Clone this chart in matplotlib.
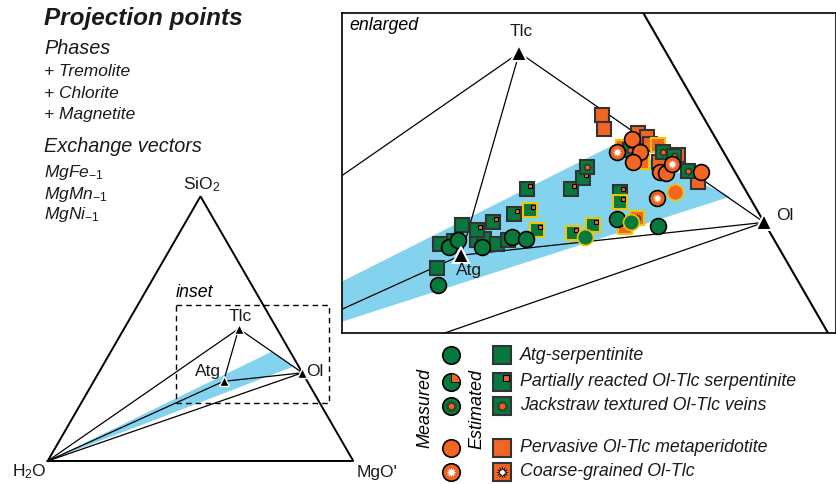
import numpy as np
import matplotlib
matplotlib.use('Agg')
import matplotlib.pyplot as plt
from matplotlib.path import Path

plt.rcParams['font.family'] = ['Liberation Sans', 'DejaVu Sans']
plt.rcParams['mathtext.fontset'] = 'custom'
plt.rcParams['mathtext.rm'] = 'Liberation Sans'
plt.rcParams['mathtext.it'] = 'Liberation Sans:italic'

# ---------------- data ----------------
# phase compositions (mole fractions)
phase_names = ['Tlc', 'Atg', 'Ol']
phase_sio2 = [0.500, 0.301, 0.3333]
phase_mgo = [0.375, 0.425, 0.6667]

# sample projections (projected ternary coordinates, %: x along H2O->MgO', y towards SiO2)
atg_meas_x = [55.61, 56.52, 57.31, 59.35, 61.90, 63.07, 68.09, 70.79, 71.98, 74.33]
atg_meas_y = [23.53, 26.74, 27.36, 26.79, 27.64, 27.42, 27.59, 29.12, 28.92, 28.58]
atg_meas_ring = [0, 0, 0, 0, 0, 0, 1, 0, 1, 0]

atg_est_x = [55.47, 57.60, 55.75, 56.94, 58.87, 59.49, 60.57, 61.56]
atg_est_y = [24.95, 28.64, 27.02, 27.28, 27.36, 27.45, 27.02, 27.36]
atg_est_ring = [0, 0, 0, 0, 0, 0, 0, 0]

part_est_x = [63.18, 63.41, 62.07, 60.29, 58.87, 63.98, 66.87, 67.89, 71.07, 71.07, 68.74, 67.04]
part_est_y = [31.70, 29.92, 29.57, 28.87, 28.21, 28.21, 31.68, 32.61, 31.47, 30.62, 28.64, 27.93]
part_est_ring = [0, 1, 0, 0, 0, 1, 0, 0, 0, 1, 1, 1]

jack_est_x = [68.29, 71.92, 74.75, 75.69, 76.83]
jack_est_y = [33.60, 35.02, 34.88, 34.51, 33.23]
jack_est_ring = [0, 0, 0, 0, 0]

perv_meas_x = [72.11, 72.77, 72.20, 74.47, 74.96, 77.96, 75.75]
perv_meas_y = [35.93, 34.83, 33.97, 33.17, 33.04, 33.17, 31.47]
perv_meas_ring = [0, 0, 0, 0, 0, 0, 1]

perv_est_x = [69.56, 69.73, 72.63, 73.34, 73.62, 74.28, 71.35, 72.91, 74.39, 76.03, 77.73, 71.49]
perv_est_y = [38.00, 36.78, 36.44, 36.10, 35.53, 35.45, 35.30, 34.03, 34.03, 34.60, 32.32, 28.49]
perv_est_ring = [0, 0, 0, 0, 0, 1, 1, 1, 0, 0, 0, 1]

coarse_meas_x = [70.79, 75.52, 74.19]
coarse_meas_y = [34.88, 33.83, 30.91]
coarse_meas_ring = [0, 0, 0]

coarse_est_x = [72.54]
coarse_est_y = [29.21]
coarse_est_ring = [1]

# blue compositional band (projected coords)
band_small_x = [0.0, 73.3, 80.4]
band_small_y = [0.0, 35.8, 30.9]
band_enl_x = [40.0, 70.79, 80.43, 40.0]
band_enl_y = [20.11, 35.59, 31.05, 18.02]

legend_labels = ['Atg-serpentinite', 'Partially reacted Ol-Tlc serpentinite',
                 'Jackstraw textured Ol-Tlc veins', 'Pervasive Ol-Tlc metaperidotite',
                 'Coarse-grained Ol-Tlc']

# ---------------- style ----------------
GREEN = '#08793e'
ORANGE = '#f26522'
BLUE = '#84d3ee'
YELLOW = '#f2c300'
SQE = '#333333'

def proj(sio2, mgo):
    return 100 * (mgo + sio2 / 2.0), 100 * sio2 * np.sqrt(3) / 2

ph = {n: proj(s, m) for n, s, m in zip(phase_names, phase_sio2, phase_mgo)}
H2O = (0.0, 0.0); MGO = (100.0, 0.0); SIO2 = (50.0, 100 * np.sqrt(3) / 2)

W, H = 837, 484
fig = plt.figure(figsize=(W / 100, H / 100), dpi=100)

def px_axes(x0, y0, x1, y1):
    return fig.add_axes([x0 / W, 1 - y1 / H, (x1 - x0) / W, (y1 - y0) / H])

QUAD = Path.wedge(0, 90)
INSQ = Path([(1, 1), (0.12, 0.12), (0.82, 0.12), (0.82, 0.82), (0.12, 0.82), (0.12, 0.12)],
            [Path.MOVETO, Path.MOVETO, Path.LINETO, Path.LINETO, Path.LINETO, Path.CLOSEPOLY])
STAR = (12, 1, 0)

def draw(ax, xs, ys, kind, ring=None, cs=11.4, ss=9.4, z=5):
    xs = np.asarray(xs); ys = np.asarray(ys)
    if ring is None:
        ring = np.zeros(len(xs), int)
    ring = np.asarray(ring).astype(bool)
    circle = kind.endswith('_c')
    base = GREEN if kind[:4] in ('atg_', 'part', 'jack') else ORANGE
    for sel, ec in ((~ring, 'black' if circle else SQE), (ring, YELLOW)):
        if not sel.any():
            continue
        x = xs[sel]; y = ys[sel]
        if circle:
            ax.plot(x, y, 'o', ms=cs, mfc=base, mec=ec, mew=1.2, zorder=z, ls='none')
        else:
            ax.plot(x, y, 's', ms=ss, mfc=base, mec=ec, mew=1.5, zorder=z, ls='none')
        m = cs if circle else ss
        if kind == 'part_c':
            ax.plot(x, y, marker=QUAD, ms=m, mfc=ORANGE, mec='black', mew=0.6, ls='none', zorder=z)
        elif kind == 'part_s':
            ax.plot(x, y, marker=INSQ, ms=m, mfc=ORANGE, mec='black', mew=0.8, ls='none', zorder=z)
        elif kind in ('jack_c', 'jack_s'):
            ax.plot(x, y, marker=STAR, ms=m * 0.62, mfc=ORANGE, mec='#222222', mew=0.4, ls='none', zorder=z)
        elif kind == 'coarse_c':
            ax.plot(x, y, marker=(16, 1, 0), ms=m * 0.8, mfc='#c84a12', mec='none', ls='none', zorder=z)
            ax.plot(x, y, 'o', ms=m * 0.62, mfc=ORANGE, mec='none', ls='none', zorder=z)
            ax.plot(x, y, marker=STAR, ms=m * 0.58, mfc='white', mec='none', ls='none', zorder=z)
        elif kind == 'coarse_s':
            ax.plot(x, y, marker=STAR, ms=m * 0.7, mfc='black', mec='none', ls='none', zorder=z)
            ax.plot(x, y, marker=STAR, ms=m * 0.42, mfc='white', mec='none', ls='none', zorder=z)

# ---------------- small ternary ----------------
S = 3.056; ox, oy = 47.7, 461.0
axs = px_axes(ox - 5 * S, oy - 95 * S, ox + 105 * S, oy + 5 * S)
axs.set_xlim(-5, 105); axs.set_ylim(-5, 95); axs.axis('off')
axs.fill(band_small_x, band_small_y, color=BLUE, lw=0, zorder=1)
tri = [H2O, MGO, SIO2, H2O]
axs.plot([p[0] for p in tri], [p[1] for p in tri], color='black', lw=1.4, zorder=3,
         solid_joinstyle='miter')
segs = [(H2O, ph['Tlc']), (H2O, ph['Atg']), (H2O, ph['Ol']), (ph['Tlc'], ph['Atg']),
        (ph['Tlc'], ph['Ol']), (ph['Atg'], ph['Ol'])]
for a, b in segs:
    axs.plot([a[0], b[0]], [a[1], b[1]], color='black', lw=0.9, zorder=3)
for n in phase_names:
    axs.plot(*ph[n], marker='^', ms=6.5, mfc='black', mec='white', mew=1.0, zorder=4)

# ---------------- enlarged panel ----------------
axe = px_axes(342, 13, 836, 333)
axe.set_xlim(47.41, 89.45); axe.set_ylim(19.45, 46.68)
axe.set_xticks([]); axe.set_yticks([])
for sp in axe.spines.values():
    sp.set_linewidth(1.2)
axe.fill(band_enl_x, band_enl_y, color=BLUE, lw=0, zorder=1)
axe.plot([SIO2[0], MGO[0]], [SIO2[1], MGO[1]], color='black', lw=1.5, zorder=3)
for a, b in segs:
    axe.plot([a[0], b[0]], [a[1], b[1]], color='black', lw=0.9, zorder=3)

draw(axe, perv_est_x, perv_est_y, 'perv_s', perv_est_ring, z=5)
draw(axe, atg_est_x, atg_est_y, 'atg_s', atg_est_ring, z=5)
draw(axe, part_est_x, part_est_y, 'part_s', part_est_ring, z=6)
draw(axe, jack_est_x, jack_est_y, 'jack_s', jack_est_ring, z=6)
draw(axe, coarse_est_x, coarse_est_y, 'coarse_s', coarse_est_ring, z=6)
draw(axe, atg_meas_x, atg_meas_y, 'atg_c', atg_meas_ring, z=7)
draw(axe, perv_meas_x, perv_meas_y, 'perv_c', perv_meas_ring, z=7)
draw(axe, coarse_meas_x, coarse_meas_y, 'coarse_c', coarse_meas_ring, z=8)
for n in phase_names:
    axe.plot(*ph[n], marker='^', ms=11, mfc='black', mec='white', mew=1.5, zorder=9)

# overlay for texts and legend (on top)
ax0 = fig.add_axes([0, 0, 1, 1])
ax0.set_xlim(0, W); ax0.set_ylim(H, 0); ax0.axis('off')
ax0.set_zorder(10)

# ---------------- texts ----------------
it = dict(style='italic', ha='left', va='center', color='#1a1a1a')
ax0.text(44, 18, 'Projection points', fontsize=17.5, weight='bold', **it)
ax0.text(44, 49, 'Phases', fontsize=14.3, **it)
for yy, t in zip([72, 93, 115], ['+ Tremolite', '+ Chlorite', '+ Magnetite']):
    ax0.text(44, yy, t, fontsize=12.5, **it)
ax0.text(44, 146, 'Exchange vectors', fontsize=14.3, **it)
for yy, t in zip([173, 194, 214], ['MgFe', 'MgMn', 'MgNi']):
    ax0.text(44, yy, t + r'$_{\mathit{-1}}$', fontsize=12.5, **it)

nt = dict(ha='center', va='center', fontsize=12.5, color='#1a1a1a')
ax0.text(201.7, 185, r'SiO$_2$', **nt)
ax0.text(29, 472, r'H$_2$O', **nt)
ax0.text(377, 472, "MgO'", **nt)
ax0.text(194, 292.5, 'inset', fontsize=12.8, style='italic', ha='center', va='center')
ax0.plot([175.7, 329, 329, 175.7, 175.7], [305, 305, 402.7, 402.7, 305], color='black',
         lw=1.0, ls=(0, (4, 3)))
ax0.text(240, 316.7, 'Tlc', **nt)
ax0.text(208.3, 371.5, 'Atg', **nt)
ax0.text(315, 371.5, 'Ol', **nt)

ax0.text(349, 26, 'enlarged', fontsize=12.8, style='italic', ha='left', va='center')
ax0.text(521, 31.7, 'Tlc', **nt)
ax0.text(469, 270, 'Atg', **nt)
ax0.text(785, 216, 'Ol', **nt)

# ---------------- legend ----------------
rows = [355, 381.7, 405.7, 447.5, 471.5]
kinds = ['atg', 'part', 'jack', 'perv', 'coarse']
for yy, k, lab in zip(rows, kinds, legend_labels):
    draw(ax0, [450.7], [yy], k + '_c', cs=12.6, ss=13.5)
    draw(ax0, [501.7], [yy], k + '_s', cs=12.6, ss=13.0)
    ax0.text(520, yy, lab, fontsize=12.8, style='italic', ha='left', va='center', color='#1a1a1a')
ax0.text(425, 408, 'Measured', rotation=90, fontsize=13, style='italic', ha='center', va='center')
ax0.text(476.5, 409, 'Estimated', rotation=90, fontsize=13, style='italic', ha='center', va='center')

fig.savefig('out.png', dpi=100)
